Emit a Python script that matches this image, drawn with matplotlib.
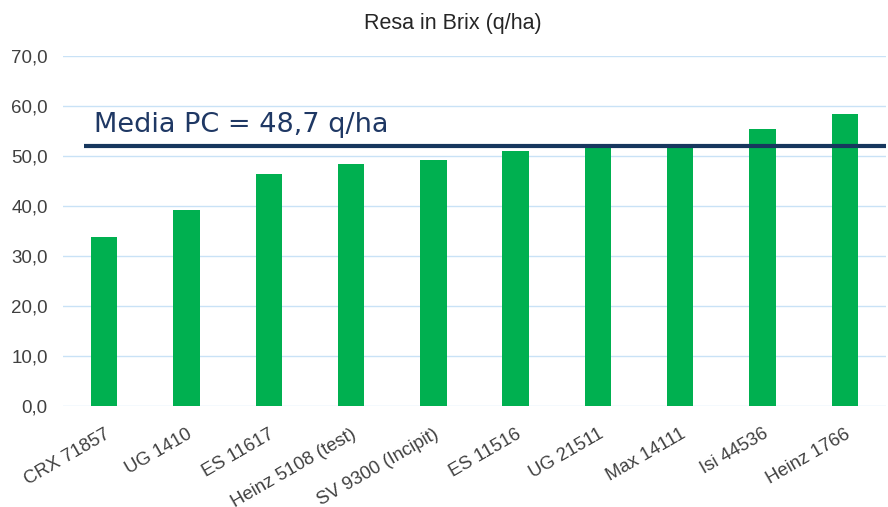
import matplotlib.pyplot as plt

# Varietà e resa in Brix (q/ha)
varieties = ['CRX 71857', 'UG 1410', 'ES 11617', 'Heinz 5108 (test)', 'SV 9300 (Incipit)',
             'ES 11516', 'UG 21511', 'Max 14111', 'Isi 44536', 'Heinz 1766']
yields = [33.8, 39.2, 46.4, 48.4, 49.3, 51.1, 51.7, 51.8, 55.4, 58.4]
mean_line = 52.1
mean_label = 'Media PC = 48,7 q/ha'
y_ticks = [0, 10, 20, 30, 40, 50, 60, 70]

fig = plt.figure(figsize=(8.88, 5.07), dpi=100)
ax = fig.add_axes([63 / 888, 1 - 406 / 507, 823 / 888, 350 / 507])

x = range(len(varieties))
ax.bar(x, yields, width=0.32, color='#00B050', zorder=2)
ax.set_xlim(-0.5, len(varieties) - 0.5)
ax.set_ylim(0, 70)

ax.set_yticks(y_ticks)
ax.set_yticklabels([f'{v:.1f}'.replace('.', ',') for v in y_ticks],
                   fontsize=13.5, color='#404040', family='Liberation Sans')
ax.set_xticks(list(x))
ax.set_xticklabels(varieties, rotation=30, ha='right', va='top', rotation_mode='anchor',
                   fontsize=13.3, color='#404040', family='Liberation Sans')
ax.tick_params(axis='y', length=0, pad=11)
ax.tick_params(axis='x', length=0, pad=14)
ax.grid(axis='y', color='#C9E2F6', linewidth=1, zorder=0)
for s in ax.spines.values():
    s.set_visible(False)

# linea della media
ax.plot([-0.24, len(varieties) - 0.5], [mean_line, mean_line], color='#17375E',
        linewidth=3, zorder=3, solid_capstyle='butt')
ax.text(-0.12, mean_line + 1.4, mean_label, fontsize=19.5, color='#1F3864',
        ha='left', va='bottom', zorder=4)

fig.text(453 / 888, 1 - 24 / 507, 'Resa in Brix (q/ha)', ha='center', va='center',
         fontsize=15.5, color='#262626', family='Liberation Sans')

fig.savefig('out.png', dpi=100)
